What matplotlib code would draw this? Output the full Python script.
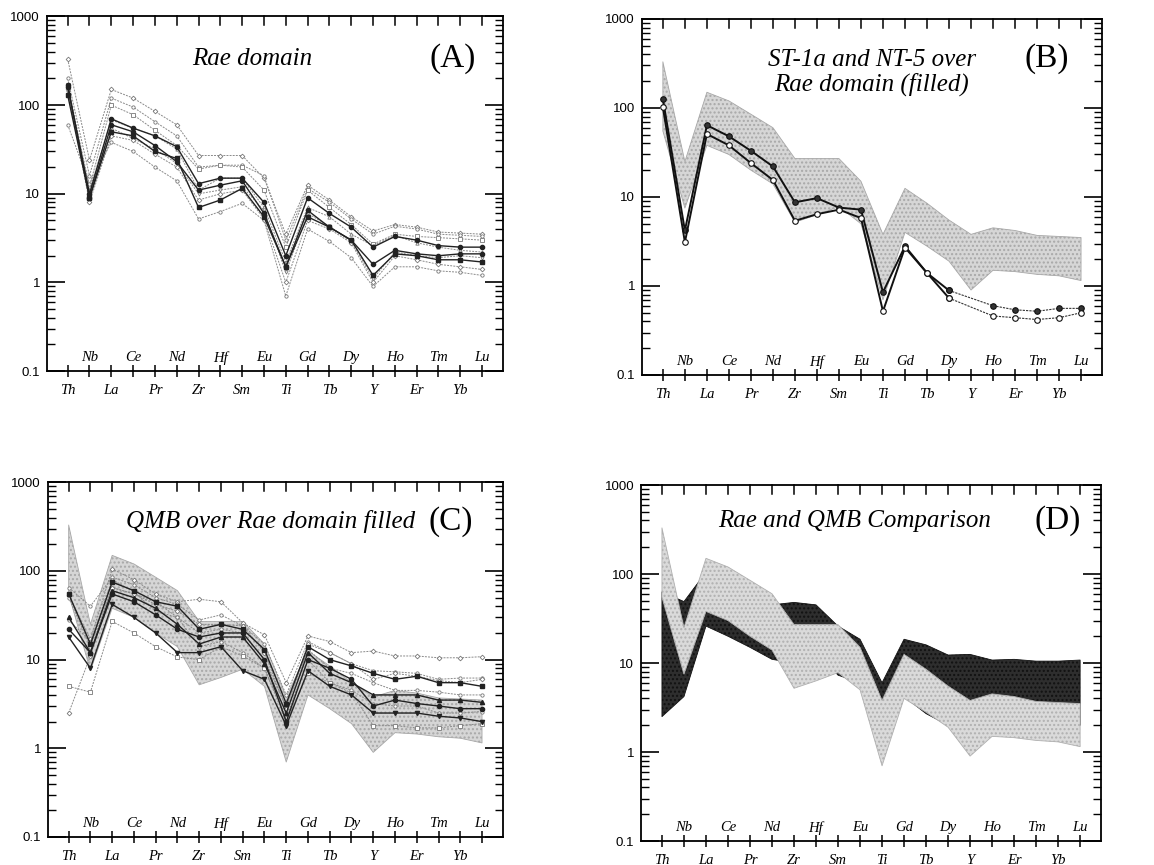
import numpy as np
import matplotlib
matplotlib.use("Agg")
import matplotlib.pyplot as plt
from matplotlib.ticker import LogLocator, NullFormatter, FixedLocator
import matplotlib.transforms as mtransforms

elements = ["Th", "Nb", "La", "Ce", "Pr", "Nd", "Zr", "Hf", "Sm", "Eu",
            "Ti", "Gd", "Tb", "Dy", "Y", "Ho", "Er", "Tm", "Yb", "Lu"]

# Rae domain samples (panel A)
rae_1 = [330, 24, 150, 120, 85, 60, 27, 27, 27, 15, 3.5, 12.5, 8.5, 5.5, 3.8, 4.5, 4.2, 3.7, 3.6, 3.5]
rae_2 = [200, 16, 120, 95, 65, 45, 20, 21, 21, 16, 3.0, 11.5, 8.0, 5.2, 3.5, 4.3, 4.0, 3.5, 3.4, 3.3]
rae_3 = [170, 12, 100, 78, 52, 35, 19, 21, 20, 11, 2.5, 11, 7.0, 4.5, 2.7, 3.5, 3.3, 3.2, 3.1, 3.0]
rae_4 = [160, 10, 70, 55, 45, 34, 13, 15, 15, 8, 2.0, 9, 6.0, 4.2, 2.5, 3.3, 3.0, 2.6, 2.5, 2.5]
rae_5 = [150, 11, 68, 55, 45, 32, 11, 15, 15, 7, 1.7, 7, 5.5, 3.5, 2.6, 3.4, 2.8, 2.5, 2.3, 2.2]
rae_6 = [170, 9, 60, 50, 35, 23, 11, 12.5, 14, 6, 1.5, 6.5, 4.2, 3.0, 1.6, 2.3, 2.1, 2.0, 2.1, 2.1]
rae_7 = [140, 10, 55, 42, 32, 22, 10, 11, 12, 6.5, 1.3, 6, 4.3, 2.9, 1.1, 2.2, 2.0, 1.9, 2.0, 1.9]
rae_8 = [130, 9, 50, 45, 30, 25, 7, 8.5, 11.5, 5.5, 1.5, 5.5, 4.2, 3.0, 1.2, 2.1, 2.0, 1.8, 1.8, 1.7]
rae_9 = [150, 8, 45, 40, 28, 20, 8.5, 10, 11, 5.2, 1.0, 5.0, 4.0, 2.8, 1.0, 2.0, 1.8, 1.6, 1.5, 1.4]
rae_10 = [60, 13, 38, 30, 20, 14, 5.2, 6.3, 7.8, 5, 0.7, 4, 2.9, 1.9, 0.9, 1.5, 1.5, 1.35, 1.3, 1.2]
rae_bold = [False, False, False, True, False, True, False, True, False, False]

# Rae domain envelope
rae_hi = [330, 25, 150, 120, 85, 60, 27, 27, 27, 15, 3.8, 12.5, 8.5, 5.5, 3.8, 4.5, 4.2, 3.7, 3.6, 3.5]
rae_lo = [55, 7.5, 38, 30, 20, 14, 5.2, 6.3, 7.8, 5, 0.7, 4, 2.8, 1.9, 0.9, 1.5, 1.45, 1.35, 1.3, 1.15]

# ST-1a and NT-5 (panel B), no Y value
st1a = [126, 4.2, 64, 48, 33, 22, 8.7, 9.7, 7.6, 7.2, 0.85, 2.8, 1.4, 0.89, np.nan, 0.60, 0.54, 0.52, 0.56, 0.56]
nt5 = [102, 3.1, 51, 38, 24, 15.5, 5.4, 6.4, 7.2, 5.8, 0.52, 2.7, 1.4, 0.73, np.nan, 0.46, 0.44, 0.42, 0.44, 0.50]

# QMB samples (panel C)
qmb_1 = [53, 17, 105, 80, 55, 45, 48, 45, 26, 19, 5.5, 18.5, 16, 12, 12.5, 11, 11, 10.5, 10.5, 10.8]
qmb_2 = [65, 40, 85, 70, 50, 42, 28, 32, 24, 15, 4.0, 16, 12, 9, 7.5, 7.3, 7, 6, 6.2, 6.2]
qmb_3 = [55, 15, 75, 60, 45, 40, 22, 25, 22, 13, 3.2, 14, 10, 8.5, 7, 6, 6.5, 5.5, 5.5, 5.0]
qmb_4 = [50, 14, 65, 55, 45, 30, 20, 22, 20, 10, 3.0, 13, 8, 7, 5.5, 4.5, 4.5, 4.3, 4.0, 4.0]
qmb_5 = [30, 12, 60, 50, 38, 25, 15, 18, 18, 9, 2.5, 12, 7, 5.5, 4, 4, 4, 3.5, 3.5, 3.3]
qmb_6 = [28, 16, 80, 58, 35, 30, 14, 16, 12, 8, 2.2, 10, 5.5, 4.5, 3.2, 3.0, 3.0, 2.5, 2.5, 2.6]
qmb_7 = [18, 8, 42, 30, 20, 12, 12, 14, 7.5, 6, 1.8, 7.5, 5, 4, 2.5, 2.5, 2.5, 2.3, 2.2, 2.0]
qmb_8 = [5, 4.3, 27, 20, 14, 10.7, 10, 14, 11, 8, 2.0, 7, 5.5, 4.2, 1.8, 1.8, 1.7, 1.7, 1.8, 1.9]
qmb_9 = [2.5, 11, 65, 55, 42, 35, 25, 25, 24, 12, 2.8, 15, 12, 9, 6, 7, 6.5, 5.8, 5.5, 6.0]
qmb_10 = [22, 12, 55, 45, 32, 22, 18, 20, 20, 10, 2.0, 10, 8, 6, 3.0, 3.5, 3.2, 3.0, 2.8, 2.8]
qmb_bold = [False, False, True, False, True, False, True, False, False, True]

# QMB envelope (panel D)
qmb_hi = [63, 49, 105, 85, 60, 45, 48, 45, 26, 18.5, 6.0, 18.5, 16, 12.3, 12.5, 10.8, 11, 10.5, 10.5, 10.8]
qmb_lo = [2.5, 4.2, 26, 20, 15, 11, 10, 14, 7.3, 6, 1.7, 4.2, 2.7, 2.0, 0.95, 1.8, 1.7, 1.7, 1.8, 2.0]

rae_series = [rae_1, rae_2, rae_3, rae_4, rae_5, rae_6, rae_7, rae_8, rae_9, rae_10]
qmb_series = [qmb_1, qmb_2, qmb_3, qmb_4, qmb_5, qmb_6, qmb_7, qmb_8, qmb_9, qmb_10]

x = np.arange(len(elements))
serif = ["Liberation Serif", "DejaVu Serif"]
sans = ["Liberation Sans", "DejaVu Sans"]


def setup(ax):
    ax.set_yscale("log")
    ax.set_ylim(0.1, 1000)
    ax.set_xlim(-0.95, 19.95)
    for s in ax.spines.values():
        s.set_linewidth(1.3)
    ax.yaxis.set_minor_locator(LogLocator(base=10, subs=np.arange(2, 10), numticks=10))
    ax.yaxis.set_minor_formatter(NullFormatter())
    ax.set_yticks([0.1, 1, 10, 100, 1000])
    ax.set_yticklabels(["0.1", "1", "10", "100", "1000"], family=sans, fontsize=9.5)
    ax.tick_params(axis="y", which="major", direction="in", length=13, width=1.2,
                   left=True, right=True, pad=5)
    ax.tick_params(axis="y", which="minor", direction="in", length=6, width=1.0,
                   left=True, right=True)
    ax.set_xticks(x)
    ax.set_xticklabels([e if i % 2 == 0 else "" for i, e in enumerate(elements)],
                       family=serif, style="italic", fontsize=10.5)
    ax.tick_params(axis="x", which="major", direction="inout", length=9, width=1.1,
                   top=False, bottom=True, pad=5)
    ax.xaxis.set_minor_locator(FixedLocator([]))
    tr = mtransforms.blended_transform_factory(ax.transData, ax.transAxes)
    for i in x:
        ax.plot([i, i], [1.0, 0.975], color="black", lw=1.1, transform=tr, clip_on=False)
        if i % 2 == 1:
            ax.text(i, 0.037, elements[i], transform=tr, ha="center", va="center",
                    family=serif, style="italic", fontsize=10.5)


def label(ax, title, letter, tx, ty, lx, ly):
    ax.text(tx, ty, title, transform=ax.transAxes, ha="center", va="center",
            family=serif, style="italic", fontsize=18, linespacing=1.1)
    ax.text(lx, ly, letter, transform=ax.transAxes, ha="center", va="center",
            family=serif, fontsize=24)


def plot_line(ax, vals, bold, marker):
    v = np.array(vals, dtype=float)
    m = ~np.isnan(v)
    if bold:
        ax.plot(x[m], v[m], color="#222222", lw=1.0, marker=marker, ms=3.0,
                mfc="#222222", mec="#222222", zorder=4)
    else:
        ax.plot(x[m], v[m], color="#8a8a8a", lw=0.7, ls=(0, (2, 1.2)), marker=marker,
                ms=2.4, mfc="white", mec="#777777", mew=0.6, zorder=3)


fig = plt.figure(figsize=(11.54, 8.65), dpi=100)
axA = fig.add_axes([0.0407, 0.571, 0.395, 0.410])
axB = fig.add_axes([0.5563, 0.5665, 0.3986, 0.4116])
axC = fig.add_axes([0.0416, 0.0324, 0.394, 0.410])
axD = fig.add_axes([0.5555, 0.0277, 0.3986, 0.4116])

markers = ["D", "o", "s", "o", "^", "o", "v", "s", "D", "o"]

# (A)
setup(axA)
for vals, bold, mk in zip(rae_series, rae_bold, markers):
    plot_line(axA, vals, bold, mk)
label(axA, "Rae domain", "(A)", 0.45, 0.88, 0.89, 0.88)

# (B)
setup(axB)
axB.fill_between(x, rae_lo, rae_hi, facecolor="#d6d6d6", edgecolor="#a8a8a8",
                 hatch="....", linewidth=0.6, zorder=2)
for vals, filled in [(st1a, True), (nt5, False)]:
    v = np.array(vals, dtype=float)
    m = ~np.isnan(v)
    head = m & (x <= 13)
    tail = m & (x >= 13)
    mfc = "#333333" if filled else "white"
    axB.plot(x[head], v[head], color="#111111", lw=1.4, marker="o", ms=4,
             mfc=mfc, mec="#111111", mew=0.8, zorder=4)
    axB.plot(x[tail], v[tail], color="#333333", lw=0.8, ls=(0, (2, 1)), marker="o", ms=4,
             mfc=mfc, mec="#111111", mew=0.8, zorder=4)
label(axB, "ST-1a and NT-5 over\nRae domain (filled)", "(B)", 0.50, 0.85, 0.88, 0.89)

# (C)
setup(axC)
axC.fill_between(x, rae_lo, rae_hi, facecolor="#d6d6d6", edgecolor="#a8a8a8",
                 hatch="....", linewidth=0.6, zorder=2)
for vals, bold, mk in zip(qmb_series, qmb_bold, markers):
    plot_line(axC, vals, bold, mk)
label(axC, "QMB over Rae domain filled", "(C)", 0.49, 0.89, 0.885, 0.89)

# (D)
setup(axD)
axD.fill_between(x, qmb_lo, qmb_hi, facecolor="#2e2e2e", edgecolor="#111111",
                 hatch="....", linewidth=0.6, zorder=2)
axD.fill_between(x, rae_lo, rae_hi, facecolor="#dadada", edgecolor="#b0b0b0",
                 hatch="....", linewidth=0.6, zorder=3)
label(axD, "Rae and QMB Comparison", "(D)", 0.465, 0.90, 0.905, 0.90)

fig.savefig("out.png", dpi=100)
